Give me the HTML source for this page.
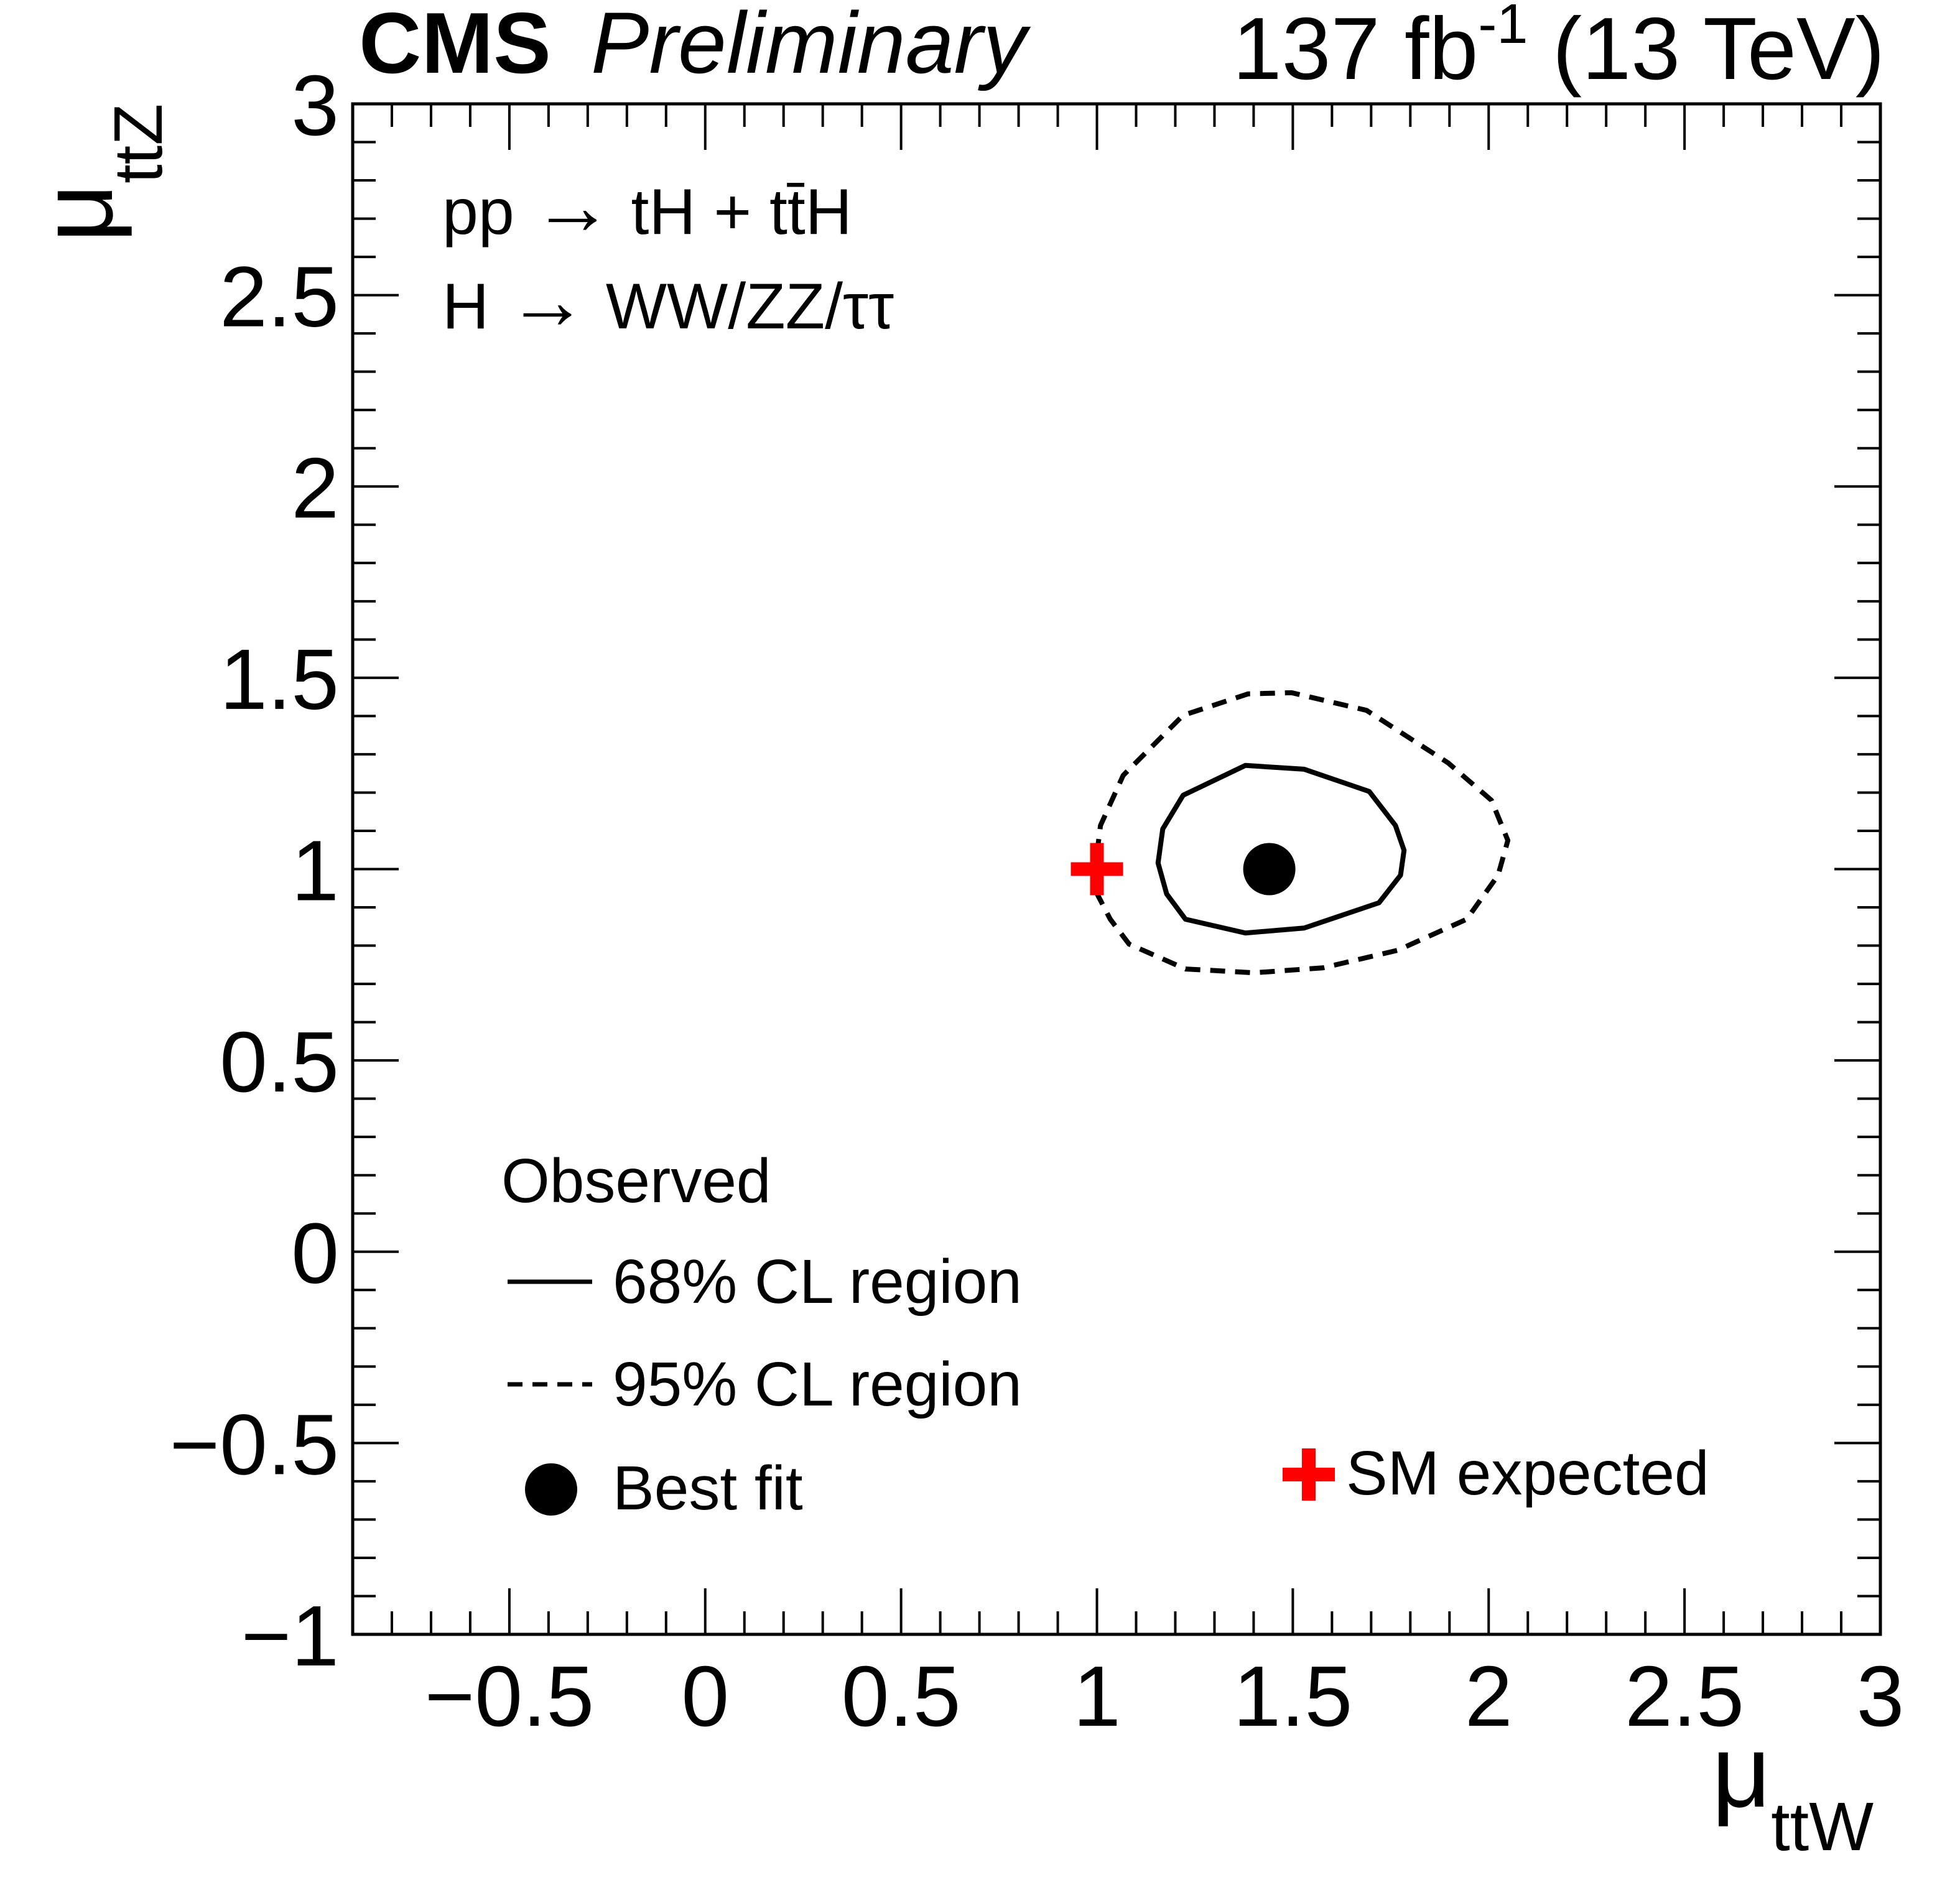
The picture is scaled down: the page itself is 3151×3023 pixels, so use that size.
<!DOCTYPE html>
<html><head><meta charset="utf-8"><style>
html,body{margin:0;padding:0;background:#fff;}
svg{display:block;font-family:"Liberation Sans",sans-serif;}
</style></head><body>
<svg id="chart" width="3151" height="3023" viewBox="0 0 3151 3023" xmlns="http://www.w3.org/2000/svg">
<rect width="3151" height="3023" fill="#fff"/>
<g id="ticks"></g>
<g id="marks"></g>
<rect x="567" y="167" width="2456" height="2461" fill="none" stroke="#000" stroke-width="5"/>
<text x="577" y="117" font-size="139" font-weight="bold">CMS</text>
<text x="950" y="117" font-size="140" font-style="italic">Preliminary</text>
<text x="3030" y="127" font-size="142" text-anchor="end">137 fb<tspan font-size="90" dy="-58">-1</tspan><tspan dy="58"> (13 TeV)</tspan></text>
<text x="711" y="376" font-size="104">pp <tspan font-size="130">→</tspan> tH + tt̄H</text>
<text x="711" y="528" font-size="104">H <tspan font-size="130">→</tspan> WW/ZZ/ττ</text>
<g transform="translate(180,390) rotate(-90)">
<text x="0" y="0" font-size="165">μ<tspan font-size="110" dy="80">ttZ</tspan></text>
</g>
<text x="2752" y="2905" font-size="165">μ<tspan font-size="110" dy="70">ttW</tspan></text>
<g>
<text x="806" y="1933" font-size="100">Observed</text>
<line x1="816" y1="2061" x2="952" y2="2061" stroke="#000" stroke-width="7"/>
<text x="985" y="2095" font-size="100">68% CL region</text>
<line x1="816" y1="2226" x2="952" y2="2226" stroke="#000" stroke-width="7" stroke-dasharray="24,16"/>
<text x="985" y="2260" font-size="100">95% CL region</text>
<circle cx="886" cy="2395" r="42" fill="#000"/>
<text x="985" y="2427" font-size="100">Best fit</text>
<path d="M2062 2371H2146M2104 2329V2413" stroke="#ff0000" stroke-width="22"/>
<text x="2164" y="2403" font-size="100">SM expected</text>
</g>
</svg>
<script>
const xTicks=[-0.5,0,0.5,1,1.5,2,2.5,3];
const xTickLabels=["\u22120.5","0","0.5","1","1.5","2","2.5","3"];
const yTicks=[-1,-0.5,0,0.5,1,1.5,2,2.5,3];
const yTickLabels=["\u22121","\u22120.5","0","0.5","1","1.5","2","2.5","3"];
const contour68X=[1.22,1.379,1.529,1.695,1.762,1.784,1.775,1.72,1.529,1.379,1.226,1.178,1.156,1.168];
const contour68Y=[1.193,1.271,1.261,1.203,1.114,1.049,0.984,0.912,0.846,0.833,0.869,0.935,1.016,1.105];
const contour95X=[1.0,1.009,1.067,1.22,1.386,1.497,1.688,1.896,2.007,2.049,2.024,1.944,1.768,1.577,1.401,1.226,1.082,1.034,0.996];
const contour95Y=[1.04,1.114,1.245,1.402,1.458,1.461,1.415,1.278,1.18,1.075,0.984,0.869,0.788,0.742,0.729,0.739,0.804,0.869,0.944];
const bestFit=[1.44,1.0];
const smPoint=[1.0,1.0];

const X0=567,X1=3023,Y0=2628,Y1=167,XMIN=-0.9,XMAX=3,YMIN=-1,YMAX=3;
const sx=v=>X0+(v-XMIN)/(XMAX-XMIN)*(X1-X0);
const sy=v=>Y0-(v-YMIN)/(YMAX-YMIN)*(Y0-Y1);
const NS="http://www.w3.org/2000/svg";
const tg=document.getElementById('ticks'), mg=document.getElementById('marks');
function mk(tag,attrs,parent){const e=document.createElementNS(NS,tag);for(const k in attrs)e.setAttribute(k,attrs[k]);parent.appendChild(e);return e;}
let d="";
for(let i=-9;i<=30;i++){const v=i/10,x=sx(v),maj=(i%5===0);const L=maj?74:37;
 d+=`M${x} ${Y0}V${Y0-L}M${x} ${Y1}V${Y1+L}`;}
for(let i=-10;i<=30;i++){const v=i/10,y=sy(v),maj=(i%5===0);const L=maj?74:37;
 d+=`M${X0} ${y}H${X0+L}M${X1} ${y}H${X1-L}`;}
const tp=mk('path',{d:d,stroke:'#000','stroke-width':4,fill:'none'},tg);


xTicks.forEach((v,i)=>{const t=mk('text',{x:sx(v),y:2775,'font-size':138,'text-anchor':'middle'},tg);t.textContent=xTickLabels[i];
 
 });
yTicks.forEach((v,i)=>{const t=mk('text',{x:545,y:sy(v)+50,'font-size':138,'text-anchor':'end'},tg);t.textContent=yTickLabels[i];
 
 });
function poly(xs,ys,close){return xs.map((x,i)=>(i?'L':'M')+sx(x)+' '+sy(ys[i])).join('')+(close?'Z':'');}
const c95=mk('path',{d:poly(contour95X,contour95Y,false),fill:'none',stroke:'#000','stroke-width':8,'stroke-dasharray':'24,16','stroke-linejoin':'round'},mg);


const c68=mk('path',{d:poly(contour68X,contour68Y,true),fill:'none',stroke:'#000','stroke-width':8,'stroke-linejoin':'round'},mg);


const bf=mk('circle',{cx:sx(bestFit[0]),cy:sy(bestFit[1]),r:42,fill:'#000'},mg);


const cx=sx(smPoint[0]),cy=sy(smPoint[1]);
const sm=mk('path',{d:`M${cx-42} ${cy}H${cx+42}M${cx} ${cy-42}V${cy+42}`,stroke:'#ff0000','stroke-width':22},mg);


</script>
</body></html>
